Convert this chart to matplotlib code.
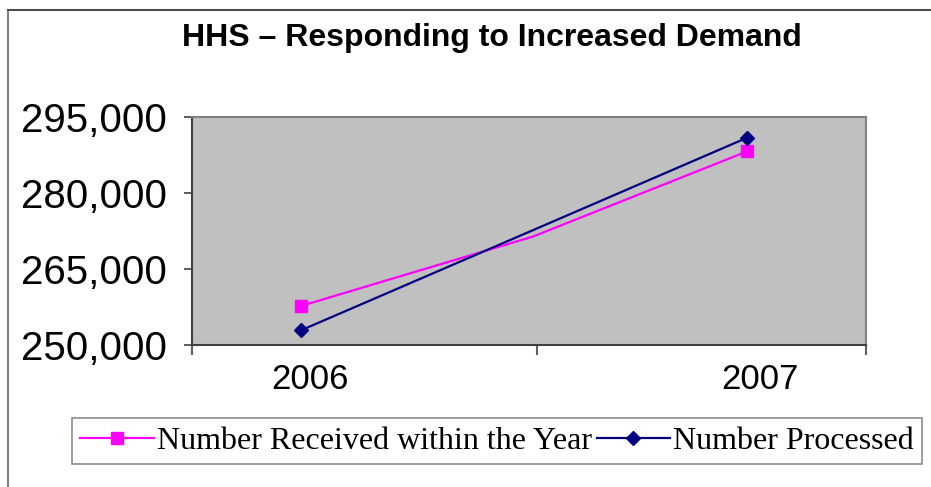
import matplotlib
matplotlib.use('Agg')
import matplotlib.pyplot as plt
from matplotlib.patches import Rectangle

years = ['2006', '2007']
# pink line has a slight bend near the middle of the plot
received_x = [0, 0.52, 1]
received = [257700, 271400, 288200]
processed_x = [0, 1]
processed = [252900, 290900]
y_ticks = [250000, 265000, 280000, 295000]

fig = plt.figure(figsize=(9.31, 4.87), dpi=100)

# outer chart border (left and top visible)
fig.patches.append(Rectangle((7.5 / 931, -0.1), 1.1, (487 - 9.5) / 487 + 0.1,
                             transform=fig.transFigure, fill=False,
                             edgecolor='#7f7f7f', lw=1.5))
fig.add_artist(plt.Line2D([7.5 / 931, 1], [1 - 9.5 / 487] * 2,
                          transform=fig.transFigure, color='#404040', lw=1.2))

ax = fig.add_axes([192 / 931, 1 - 345 / 487, 674 / 931, 228 / 487])
ax.set_facecolor('#c0c0c0')
for s in ax.spines.values():
    s.set_color('#808080')
    s.set_linewidth(1.5)
ax.spines['left'].set_color('#404040')
ax.spines['bottom'].set_color('#404040')

ax.plot(received_x, received, color='#ff00ff', lw=1.6, marker='s', ms=8,
        markevery=[0, 2], label='Number Received within the Year', zorder=3)
ax.plot(processed_x, processed, color='#000080', lw=1.6, marker='D', ms=7,
        label='Number Processed', zorder=4)

ax.set_ylim(250000, 295000)
ax.set_yticks(y_ticks)
ax.set_yticklabels(['{:,}'.format(v) for v in y_ticks], fontsize=29,
                   family='Liberation Sans')
ax.tick_params(axis='y', length=6, width=1.2, color='#404040', pad=12)

x0 = -109 / 446
x1 = 565 / 446
ax.set_xlim(x0, x1)
ax.set_xticks([x0, 236 / 446, x1])
ax.set_xticklabels([])
ax.tick_params(axis='x', which='major', length=7, width=1.5, color='#606060')
ax.set_xticks([0.02, 1.03], minor=True)
ax.set_xticklabels(years, minor=True, fontsize=25, family='Liberation Sans')
ax.tick_params(axis='x', which='minor', length=0, pad=13)

fig.text(492 / 931, 1 - 38 / 487, 'HHS \u2013 Responding to Increased Demand',
         ha='center', va='center', fontsize=23, fontweight='bold',
         family='Liberation Sans')

leg = fig.legend(loc='center', bbox_to_anchor=(497 / 931, 1 - 441 / 487),
                 ncol=2, frameon=True, fancybox=False, borderpad=0.25,
                 borderaxespad=0, handlelength=2.3, handletextpad=0.1,
                 columnspacing=0.15,
                 prop={'family': 'Liberation Serif', 'size': 23})
leg.get_frame().set_edgecolor('#707070')
leg.get_frame().set_linewidth(1.2)

fig.savefig('out.png', dpi=100)
